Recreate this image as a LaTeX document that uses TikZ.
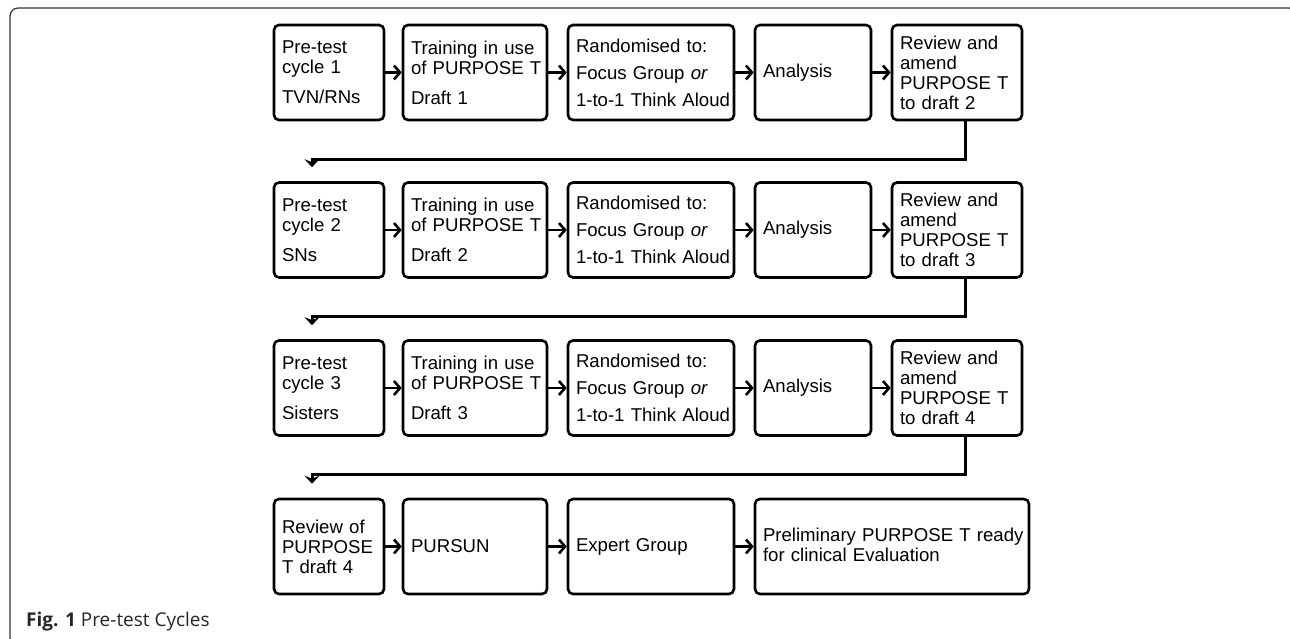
\documentclass[tikz,border=0pt]{standalone}
\usepackage{fontspec}
\setmainfont{Liberation Sans}
\newfontfamily\capfont{Open Sans}
\usetikzlibrary{arrows.meta,calc}
\tikzstyle{stagebox}=[draw, rounded corners=5pt, line width=2.6pt, minimum height=95pt, inner xsep=8pt, inner ysep=0pt, align=left, font=\fontsize{18.6}{20}\selectfont]
\tikzstyle{edge} = [draw, line width=2.6pt, -{Straight Barb[length=6pt,width=14pt]}]
\tikzstyle{back} = [draw, line width=3pt, -{Stealth[length=8pt,width=15pt,inset=3pt]}]

\begin{document}
\begin{tikzpicture}[x=1pt, y=-1pt]

    \useasboundingbox (0,0) rectangle (1290,639);
    \draw[black!80, line width=1.2pt, rounded corners=8pt] (10,8) rectangle (1297,646);

    % cycle 1
    \node[stagebox, text width=94pt] (a1) at (329,72.5) {Pre-test\\cycle 1\\[10pt]TVN/RNs};
    \node[stagebox, text width=128pt] (a2) at (475,72.5) {Training in use\\\mbox{of PURPOSE T}\\[10pt]Draft 1};
    \node[stagebox, text width=150pt] (a3) at (651,72.5) {Randomised to:\\[7pt]Focus Group \textit{or}\\[7pt]\mbox{1-to-1 Think Aloud}};
    \node[stagebox, text width=100pt] (a4) at (813,72.5) {Analysis};
    \node[stagebox, text width=114pt] (a5) at (957,72.5) {Review and\\amend\\PURPOSE T\\to draft 2};

    % cycle 2
    \node[stagebox, text width=94pt] (b1) at (329,230) {Pre-test\\cycle 2\\[10pt]SNs};
    \node[stagebox, text width=128pt] (b2) at (475,230) {Training in use\\\mbox{of PURPOSE T}\\[10pt]Draft 2};
    \node[stagebox, text width=150pt] (b3) at (651,230) {Randomised to:\\[7pt]Focus Group \textit{or}\\[7pt]\mbox{1-to-1 Think Aloud}};
    \node[stagebox, text width=100pt] (b4) at (813,230) {Analysis};
    \node[stagebox, text width=114pt] (b5) at (957,230) {Review and\\amend\\PURPOSE T\\to draft 3};

    % cycle 3
    \node[stagebox, text width=94pt] (c1) at (329,388) {Pre-test\\cycle 3\\[10pt]Sisters};
    \node[stagebox, text width=128pt] (c2) at (475,388) {Training in use\\\mbox{of PURPOSE T}\\[10pt]Draft 3};
    \node[stagebox, text width=150pt] (c3) at (651,388) {Randomised to:\\[7pt]Focus Group \textit{or}\\[7pt]\mbox{1-to-1 Think Aloud}};
    \node[stagebox, text width=100pt] (c4) at (813,388) {Analysis};
    \node[stagebox, text width=114pt] (c5) at (957,388) {Review and\\amend\\PURPOSE T\\to draft 4};

    % final steps
    \node[stagebox, text width=94pt] (d1) at (329,546.5) {Review of\\PURPOSE\\T draft 4\\[14pt]};
    \node[stagebox, text width=128pt] (d2) at (475,546.5) {PURSUN};
    \node[stagebox, text width=150pt] (d3) at (651,546.5) {Expert Group};
    \node[stagebox, text width=258pt] (d4) at (892,546.5) {\\[-10pt]\mbox{Preliminary PURPOSE T ready}\\for clinical Evaluation};

    \foreach \row in {a,b,c,d}
        \foreach \source/\dest in {1/2,2/3,3/4}
            \path[edge] (\row\source) -- (\row\dest);
    \foreach \row in {a,b,c}
        \path[edge] (\row4) -- (\row5);

    % back to the next cycle
    \coordinate (k1) at ([xshift=-17pt,yshift=14pt]b1.north);
    \coordinate (k2) at ([xshift=-17pt,yshift=14pt]c1.north);
    \coordinate (k3) at ([xshift=-17pt,yshift=14pt]d1.north);
    \foreach \source/\dest in {a5/k1, b5/k2, c5/k3}
        \path[back] ([xshift=8pt]\source.south) -- ++(0,38) -| (\dest);

    \node[anchor=west, inner sep=0pt, text=black!85, font=\capfont\fontsize{19}{22}\selectfont] (cap) at (26,622) {\textbf{Fig. 1} Pre-test Cycles};

\end{tikzpicture}
\end{document}
